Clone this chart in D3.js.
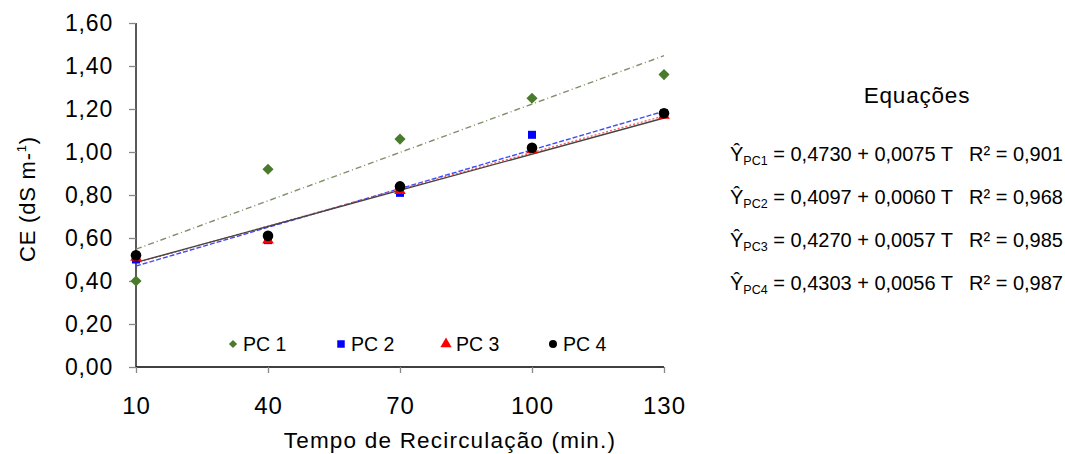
<!DOCTYPE html>
<html>
<head>
<meta charset="utf-8">
<script src="https://cdn.jsdelivr.net/npm/d3@7"></script>
<style>
  body { margin: 0; background: #fff; }
  svg { font-family: "Liberation Sans", Arial, sans-serif; }
</style>
</head>
<body>
<div id="chart"></div>
<script>
// data
const times = [10, 40, 70, 100, 130];
const seriesNames = ["PC 1", "PC 2", "PC 3", "PC 4"];
const pc1 = [0.40, 0.92, 1.06, 1.25, 1.36];
const pc2 = [0.50, 0.59, 0.81, 1.08, 1.18];
const pc3 = [0.51, 0.59, 0.82, 1.01, 1.17];
const pc4 = [0.52, 0.61, 0.84, 1.02, 1.18];
// regression coefficients (intercept, slope) and R² from the equations
const intercepts = [0.4730, 0.4097, 0.4270, 0.4303];
const slopes = [0.0075, 0.0060, 0.0057, 0.0056];
const r2 = [0.901, 0.968, 0.985, 0.987];
const yTicks = [0, 0.2, 0.4, 0.6, 0.8, 1.0, 1.2, 1.4, 1.6];

const allValues = [pc1, pc2, pc3, pc4];

// rotated square for the diamond marker
const diamond = {
  draw(ctx, size) {
    const r = Math.sqrt(size / 2);
    ctx.moveTo(0, -r); ctx.lineTo(r, 0); ctx.lineTo(0, r); ctx.lineTo(-r, 0); ctx.closePath();
  }
};

const styles = [
  { color: "#4a7a2c", line: "#7f8f6a", dash: "6,3,1,3", symbol: diamond, size: 62, lsize: 34 },
  { color: "#0000ff", line: "#3a4cff", dash: "5,2", symbol: d3.symbolSquare, size: 64, lsize: 56 },
  { color: "#ff0000", line: "#ff6060", dash: "2,2", symbol: d3.symbolTriangle, size: 58, lsize: 55 },
  { color: "#000000", line: "#444444", dash: null, symbol: d3.symbolCircle, size: 88, lsize: 50 }
];

const W = 1065, H = 454;
const margin = { top: 23, left: 136, right: 401, bottom: 87 };
const width = W - margin.left - margin.right;
const height = H - margin.top - margin.bottom;

const svg = d3.select("#chart").append("svg")
  .attr("width", W).attr("height", H);

const g = svg.append("g")
  .attr("transform", `translate(${margin.left},${margin.top})`);

const x = d3.scaleLinear().domain([10, 130]).range([0, width]);
const y = d3.scaleLinear().domain([0, 1.6]).range([height, 0]);

const fmt = (v) => d3.format(".2f")(v).replace(".", ",");

// axes
const yAxis = g.append("g")
  .call(d3.axisLeft(y).tickValues(yTicks).tickFormat(fmt).tickSize(7).tickPadding(16));
const xAxis = g.append("g")
  .attr("transform", `translate(0,${height})`)
  .call(d3.axisBottom(x).tickValues(times).tickSize(6).tickPadding(24));

[yAxis, xAxis].forEach((ax) => {
  ax.select(".domain").attr("stroke", "#000").attr("stroke-width", 1.3);
  ax.selectAll(".tick line").attr("stroke", "#888").attr("stroke-width", 1.3);
  ax.selectAll("text").attr("fill", "#000")
    .attr("font-family", "Liberation Sans, Arial, sans-serif");
});
yAxis.attr("font-size", 23).attr("letter-spacing", 0.8);
xAxis.attr("font-size", 24).attr("letter-spacing", 1);
yAxis.select(".domain").attr("d", `M0,0V${height}`);
xAxis.select(".domain").attr("d", `M0,0H${width}`);

// trend lines
allValues.forEach((vals, i) => {
  const st = styles[i];
  g.append("line")
    .attr("x1", x(times[0])).attr("x2", x(times[times.length - 1]))
    .attr("y1", y(intercepts[i] + slopes[i] * times[0]))
    .attr("y2", y(intercepts[i] + slopes[i] * times[times.length - 1]))
    .attr("stroke", st.line)
    .attr("stroke-width", 1.4)
    .attr("stroke-dasharray", st.dash);
});

// points
allValues.forEach((vals, i) => {
  const st = styles[i];
  g.selectAll(".pt" + i)
    .data(vals.map((v, j) => ({ t: times[j], v })))
    .join("path")
    .attr("class", "pt" + i)
    .attr("transform", (d) => `translate(${x(d.t)},${y(d.v)})`)
    .attr("d", d3.symbol().type(st.symbol).size(st.size))
    .attr("fill", st.color);
});

// legend
const legendX = [97, 205, 310, 417];
const legend = g.append("g").attr("transform", `translate(0,${321})`);
seriesNames.forEach((name, i) => {
  const st = styles[i];
  legend.append("path")
    .attr("transform", `translate(${legendX[i]},0)`)
    .attr("d", d3.symbol().type(st.symbol).size(st.lsize))
    .attr("fill", st.color);
  legend.append("text")
    .attr("x", legendX[i] + 10).attr("y", 7)
    .attr("font-size", 19.5)
    .text(name);
});

// axis titles
svg.append("text")
  .attr("transform", `translate(35,${199}) rotate(-90)`)
  .attr("text-anchor", "middle")
  .attr("font-size", 22)
  .attr("letter-spacing", 0.8)
  .html('CE (dS m-<tspan dy="-9" font-size="13">1</tspan><tspan dy="9">)</tspan>');

svg.append("text")
  .attr("x", 450).attr("y", 448)
  .attr("text-anchor", "middle")
  .attr("font-size", 22.5)
  .attr("letter-spacing", 1.2)
  .text("Tempo de Recirculação (min.)");

// equations panel
svg.append("text")
  .attr("x", 917).attr("y", 103)
  .attr("text-anchor", "middle")
  .attr("font-size", 22.5)
  .attr("letter-spacing", 0.8)
  .text("Equações");

const dec4 = (v) => d3.format(".4f")(v).replace(".", ",");
const dec3 = (v) => d3.format(".3f")(v).replace(".", ",");
intercepts.forEach((a, i) => {
  const yy = 161 + i * 43;
  const t = svg.append("text")
    .attr("x", 730).attr("y", yy)
    .attr("font-size", 20);
  t.append("tspan").text("Ŷ");
  t.append("tspan").attr("dy", 4).attr("font-size", 12.5).text("PC" + (i + 1));
  t.append("tspan").attr("dy", -4).text(` = ${dec4(a)} + ${dec4(slopes[i])} T`);
  svg.append("text")
    .attr("x", 969).attr("y", yy)
    .attr("font-size", 20)
    .text(`R² = ${dec3(r2[i])}`);
});
</script>
</body>
</html>
